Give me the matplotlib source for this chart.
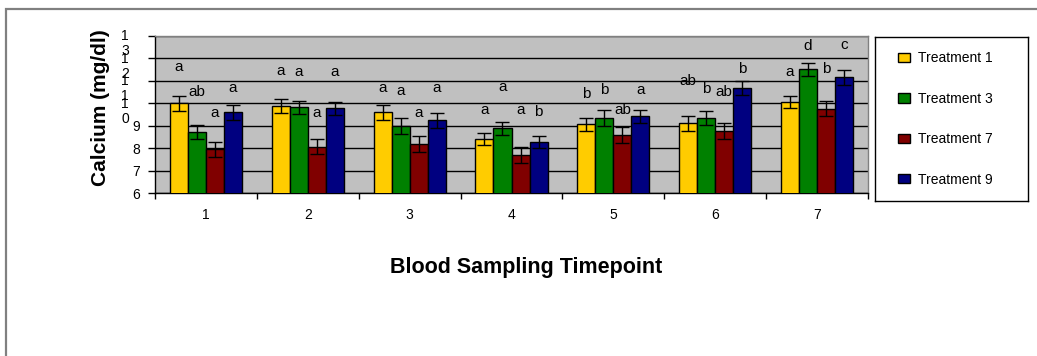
import matplotlib
matplotlib.use("Agg")
import matplotlib.pyplot as plt
import matplotlib.patches as mpatches
import numpy as np

plt.rcParams['font.family'] = ['Liberation Sans', 'DejaVu Sans']

timepoints = ['1', '2', '3', '4', '5', '6', '7']
treatments = ['Treatment 1', 'Treatment 3', 'Treatment 7', 'Treatment 9']
colors = ['#FFCC00', '#008000', '#800000', '#000080']

means = {
    'Treatment 1': [10.00, 9.87, 9.60, 8.41, 9.06, 9.11, 10.06],
    'Treatment 3': [8.71, 9.82, 8.99, 8.88, 9.34, 9.34, 11.51],
    'Treatment 7': [7.95, 8.07, 8.17, 7.69, 8.59, 8.75, 9.76],
    'Treatment 9': [9.60, 9.78, 9.24, 8.26, 9.42, 10.69, 11.16],
}
errors = {
    'Treatment 1': [0.34, 0.30, 0.34, 0.28, 0.30, 0.34, 0.28],
    'Treatment 3': [0.30, 0.28, 0.35, 0.30, 0.35, 0.30, 0.30],
    'Treatment 7': [0.34, 0.35, 0.36, 0.35, 0.35, 0.35, 0.34],
    'Treatment 9': [0.34, 0.28, 0.34, 0.27, 0.28, 0.31, 0.34],
}
letters = {
    'Treatment 1': ['a', 'a', 'a', 'a', 'b', 'ab', 'a'],
    'Treatment 3': ['ab', 'a', 'a', 'a', 'b', 'b', 'd'],
    'Treatment 7': ['a', 'a', 'a', 'a', 'ab', 'ab', 'b'],
    'Treatment 9': ['a', 'a', 'a', 'b', 'a', 'b', 'c'],
}
letter_heights = {
    'Treatment 1': [11.62, 11.45, 10.67, 9.70, 10.41, 11.01, 11.41],
    'Treatment 3': [10.50, 11.38, 10.55, 10.71, 10.59, 10.62, 12.55],
    'Treatment 7': [9.57, 9.55, 9.55, 9.70, 9.70, 10.49, 11.51],
    'Treatment 9': [10.68, 11.41, 10.69, 9.62, 10.59, 11.51, 12.60],
}
y_ticks = [6, 7, 8, 9, 10, 11, 12, 13]

W, H = 1037, 356
fig = plt.figure(figsize=(W / 100, H / 100), dpi=100)

# outer frame
fig.patches.append(mpatches.Rectangle((5.5 / W, -0.2), 1.2, 1 - 8.5 / H + 0.2,
                                      transform=fig.transFigure, fill=False,
                                      edgecolor='#808080', lw=1.6))

L, R, T, B = 155, 868, 36, 193
ax = fig.add_axes([L / W, 1 - B / H, (R - L) / W, (B - T) / H])
ax.set_facecolor('#C0C0C0')

x = np.arange(len(timepoints))
bw = 0.177
for i, tr in enumerate(treatments):
    xs = x + (i - 1.5) * bw
    ax.bar(xs, means[tr], width=bw, bottom=0, color=colors[i], edgecolor='black',
           linewidth=1, zorder=3, label=tr)
    ax.errorbar(xs, means[tr], yerr=errors[tr], fmt='none', ecolor='black',
                elinewidth=1, capsize=5, capthick=1, zorder=4)
    for xx, lt, ly in zip(xs, letters[tr], letter_heights[tr]):
        ax.text(xx, ly, lt, ha='center', va='center', fontsize=11, zorder=5)

ax.set_xlim(-0.5, len(timepoints) - 0.5)
ax.set_ylim(6, 13)
ax.set_yticks(y_ticks)
ax.yaxis.grid(True, color='black', lw=1)
ax.set_axisbelow(True)
ax.tick_params(axis='y', direction='out', length=5, width=1, pad=6, labelsize=10)
labels = []
for v in y_ticks:
    labels.append(str(v) if v < 10 else '')
ax.set_yticklabels(labels)
for v in y_ticks:
    if v >= 10:
        s = str(v)
        ax.annotate(s[0] + '\n' + s[1], xy=(0, v), xycoords=('axes fraction', 'data'),
                    xytext=(-21.5, 4.8), textcoords='offset points',
                    ha='center', va='top', fontsize=10, linespacing=1.1,
                    annotation_clip=False)

ax.set_xticks(np.arange(-0.5, len(timepoints), 1.0))
ax.set_xticklabels([])
ax.set_xticks(x, minor=True)
ax.set_xticklabels(timepoints, minor=True)
ax.tick_params(axis='x', which='major', direction='out', length=4, width=1)
ax.tick_params(axis='x', which='minor', length=0, pad=11, labelsize=10)

for s in ['left', 'bottom']:
    ax.spines[s].set_color('black')
    ax.spines[s].set_linewidth(1)
for s in ['top', 'right']:
    ax.spines[s].set_color('#808080')
    ax.spines[s].set_linewidth(1)

fig.text(101 / W, 1 - 108 / H, 'Calcium (mg/dl)', rotation=90, ha='center',
         va='center', fontsize=15, fontweight='bold')
fig.text(526 / W, 1 - 267 / H, 'Blood Sampling Timepoint', ha='center',
         va='center', fontsize=15.5, fontweight='bold')

# legend box
lax = fig.add_axes([875 / W, 1 - 201 / H, (1028 - 875) / W, (201 - 37) / H])
lax.set_xticks([])
lax.set_yticks([])
lax.set_facecolor('white')
for s in lax.spines.values():
    s.set_color('black')
    s.set_linewidth(1)
handles, hl = ax.get_legend_handles_labels()
lax.legend(handles, hl, loc='center left', bbox_to_anchor=(0.15, 0.5),
           frameon=False, fontsize=10, handlelength=0.85, handleheight=0.65,
           handletextpad=0.6, labelspacing=1.9, borderpad=0, borderaxespad=0)

fig.savefig('out.png', dpi=100)
